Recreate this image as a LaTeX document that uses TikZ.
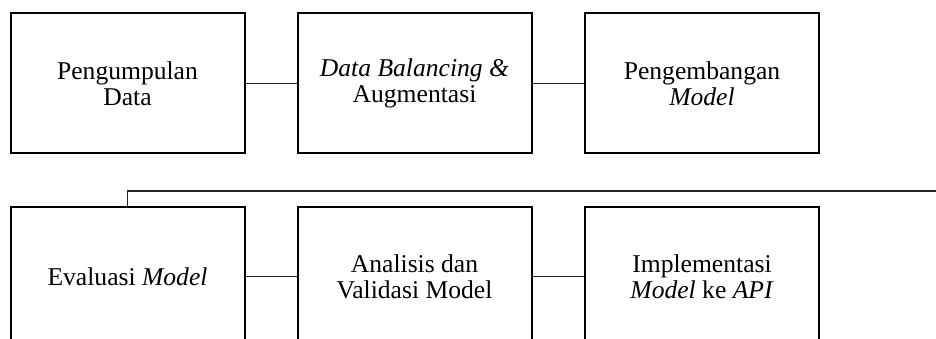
\documentclass[tikz,border=0pt]{standalone}
\usepackage{fontspec}
\setmainfont{Liberation Serif}
\begin{document}
\begin{tikzpicture}[x=1pt,y=-1pt,
  stagebox/.style={draw=black,line width=2pt,minimum width=234pt,minimum height=140pt,
    inner sep=0pt,align=center,font=\fontsize{25.6}{26}\selectfont},
  link/.style={draw=black!85,line width=1.1pt}]
\useasboundingbox (0,0) rectangle (936,339);
\clip (0,0) rectangle (936,339);
\node[stagebox] (b1) at (127.5,83.5) {Pengumpulan\\Data};
\node[stagebox] (b2) at (414.5,83.5) {\textit{Data Balancing \&}\\Augmentasi};
\node[stagebox] (b3) at (702,83.5) {Pengembangan\\\textit{Model}};
\node[stagebox] (b4) at (127.5,276.5) {Evaluasi \textit{Model}};
\node[stagebox] (b5) at (414.5,276.5) {Analisis dan\\Validasi Model};
\node[stagebox] (b6) at (702,276.5) {Implementasi\\\textit{Model} ke \textit{API}};
\coordinate (fbend) at (940,191);
\draw[link] (b1.east) -- (b2.west);
\draw[link] (b2.east) -- (b3.west);
\draw[link] (b4.east) -- (b5.west);
\draw[link] (b5.east) -- (b6.west);
\draw[link] (fbend) -- (b4.north |- fbend) -- (b4.north);
\end{tikzpicture}
\end{document}
